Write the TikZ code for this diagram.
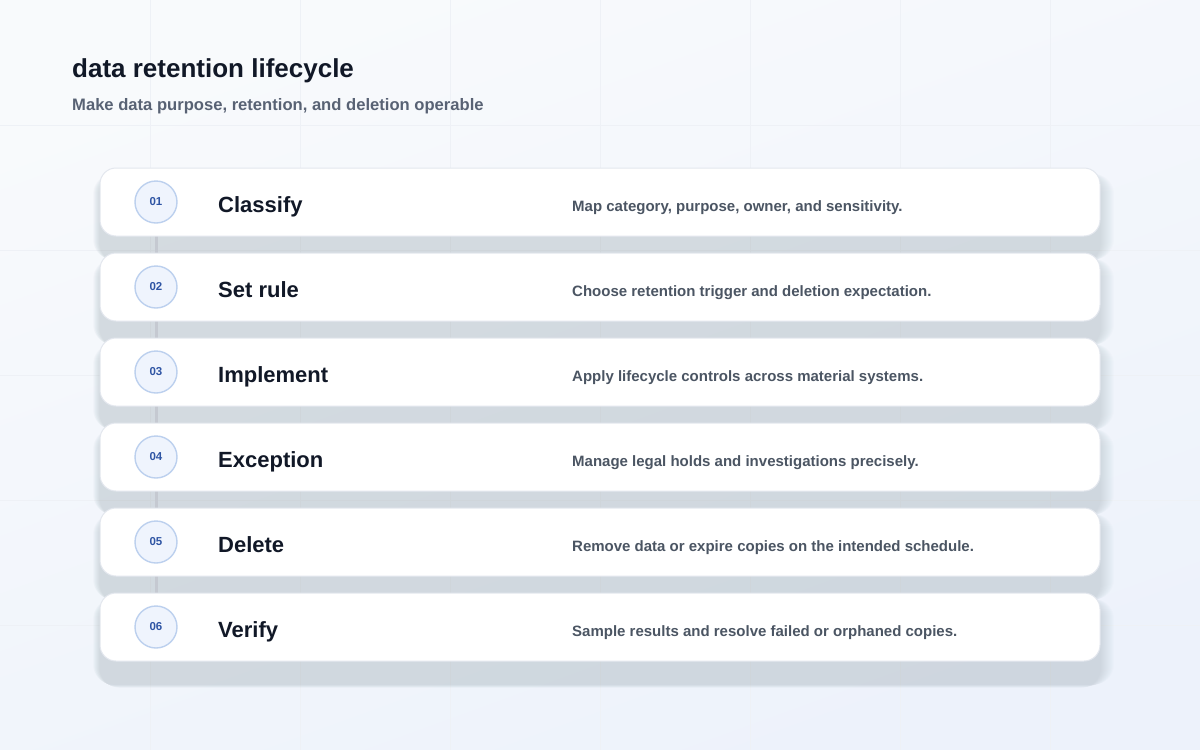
\documentclass[tikz,border=0pt]{standalone}
\usepackage{fontspec}
\setmainfont{Liberation Sans}
\usetikzlibrary{calc}
\definecolor{bgtop}{HTML}{F8FAFC}
\definecolor{bgbot}{HTML}{EDF2FB}
\definecolor{gridc}{HTML}{EEF1F6}
\definecolor{cardline}{HTML}{E3E7EE}
\definecolor{shadowc}{HTML}{3B4A66}
\definecolor{circfill}{HTML}{EFF4FD}
\definecolor{circline}{HTML}{BCD0EE}
\definecolor{numc}{HTML}{2F55A4}
\definecolor{titlec}{HTML}{111827}
\definecolor{descc}{HTML}{4B5563}
\definecolor{subc}{HTML}{586274}
\definecolor{linkc}{HTML}{C5C9D1}
\tikzset{
  card/.style={draw=cardline, line width=1pt, fill=white, rounded corners=16pt, minimum width=1000pt, minimum height=68pt, inner sep=0pt},
  stepnum/.style={circle, draw=circline, line width=1.4pt, fill=circfill, minimum size=42pt, inner sep=0pt, text=numc, font=\fontsize{11.5}{14}\selectfont\bfseries},
  steptitle/.style={anchor=base west, inner sep=0pt, text=titlec, font=\fontsize{22}{26}\selectfont\bfseries},
  stepdesc/.style={anchor=base west, inner sep=0pt, text=descc, font=\fontsize{15}{18}\selectfont\bfseries},
  link/.style={draw=linkc, line width=3pt},
}
\begin{document}
\begin{tikzpicture}[x=1pt,y=-1pt]
\useasboundingbox (0,0) rectangle (1200,750);
\shade[top color=bgtop, bottom color=bgbot, shading angle=20] (0,0) rectangle (1200,750);
\foreach \x in {150,300,...,1050} \draw[gridc, line width=1pt] (\x,0) -- (\x,750);
\foreach \y in {125,250,...,625} \draw[gridc, line width=1pt] (0,\y) -- (1200,\y);
\node[anchor=base west, inner sep=0pt, text=titlec, font=\fontsize{26}{30}\selectfont\bfseries] (title) at (72,77) {data retention lifecycle};
\node[anchor=base west, inner sep=0pt, text=subc, font=\fontsize{16.6}{19}\selectfont\bfseries] (subtitle) at (72,110) {Make data purpose, retention, and deletion operable};
% shadows
\foreach \i in {0,...,5} {
  \pgfmathsetmacro{\cy}{202+85*\i}
  \foreach \e in {1,2,...,14} {
    \fill[shadowc, opacity=0.011, rounded corners=20pt] (100-\e*0.5,\cy-34+6) rectangle (1100+\e*1.0,\cy+34+27-\e*0.25);
  }
}
% connectors
\coordinate (c1) at (156,202);
\foreach \i in {1,...,5} {
  \pgfmathsetmacro{\cy}{202+85*\i}
  \coordinate (c\the\numexpr\i+1\relax) at (156,\cy);
}
\foreach \a/\b in {c1/c2,c2/c3,c3/c4,c4/c5,c5/c6} \draw[link] (\a) -- (\b);
% cards
\foreach \i/\num/\ttl/\dsc in {
  0/01/Classify/{Map category, purpose, owner, and sensitivity.},
  1/02/Set rule/{Choose retention trigger and deletion expectation.},
  2/03/Implement/{Apply lifecycle controls across material systems.},
  3/04/Exception/{Manage legal holds and investigations precisely.},
  4/05/Delete/{Remove data or expire copies on the intended schedule.},
  5/06/Verify/{Sample results and resolve failed or orphaned copies.}} {
  \pgfmathsetmacro{\cy}{202+85*\i}
  \node[card] (card\num) at (600,\cy) {};
  \node[stepnum] (num\num) at (156,\cy) {\num};
  \node[steptitle] (ttl\num) at (218,\cy+10) {\ttl};
  \node[stepdesc] (dsc\num) at (572,\cy+9) {\dsc};
}
\end{tikzpicture}
\end{document}
